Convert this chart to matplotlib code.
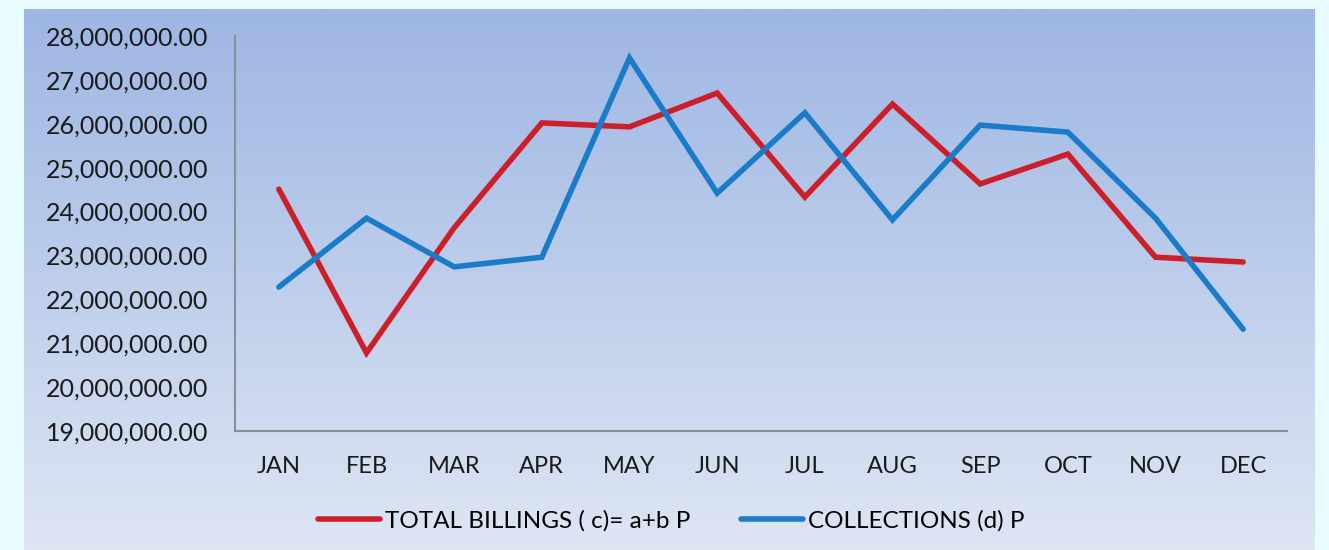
import matplotlib
matplotlib.use("Agg")
import matplotlib.pyplot as plt
import numpy as np
from matplotlib.ticker import FuncFormatter

months = ["JAN", "FEB", "MAR", "APR", "MAY", "JUN", "JUL", "AUG", "SEP", "OCT", "NOV", "DEC"]
billings = [24510000, 20780000, 23630000, 26020000, 25930000, 26700000,
            24330000, 26450000, 24630000, 25310000, 22960000, 22850000]
collections = [22280000, 23850000, 22740000, 22960000, 27500000, 24420000,
               26250000, 23810000, 25970000, 25810000, 23850000, 21320000]
series_labels = ["TOTAL BILLINGS ( c)= a+b P", "COLLECTIONS (d) P"]
yticks = [19000000 + i * 1000000 for i in range(10)]

plt.rcParams['font.family'] = ['Lato', 'DejaVu Sans']

W, H = 1329, 550
fig = plt.figure(figsize=(W / 100, H / 100), dpi=100)
fig.patch.set_facecolor('#e8fbff')

# gradient panel
bg = fig.add_axes([24 / W, 0, (1315 - 24) / W, (H - 9) / H], zorder=0)
top = np.array([157, 182, 227]) / 255
bot = np.array([222, 230, 244]) / 255
t = np.linspace(0, 1, 256)[:, None]
grad = (top[None, :] * (1 - t) + bot[None, :] * t)[:, None, :]
bg.imshow(grad, aspect='auto', extent=[0, 1, 0, 1], origin='upper')
bg.set_axis_off()

ax = fig.add_axes([235 / W, 1 - 431 / H, (1287 - 235) / W, (431 - 36) / H], zorder=1)
ax.set_facecolor('none')
x = np.arange(len(months))
l1, = ax.plot(x, billings, color='#cc1f2a', lw=4.0, solid_capstyle='round', solid_joinstyle='miter')
l2, = ax.plot(x, collections, color='#1a7bc9', lw=4.0, solid_capstyle='round', solid_joinstyle='miter')

ax.set_xlim(-0.5, len(months) - 0.5)
ax.set_ylim(19000000, 28000000)
ax.set_yticks(yticks)
ax.yaxis.set_major_formatter(FuncFormatter(lambda v, p: f"{v:,.2f}"))
ax.set_xticks(x)
ax.set_xticklabels(months)
ax.tick_params(axis='both', length=0, colors='#1a1a1a')
ax.tick_params(axis='y', pad=19, labelsize=18)
ax.tick_params(axis='x', pad=18, labelsize=17)
for s in ['top', 'right']:
    ax.spines[s].set_visible(False)
for s in ['left', 'bottom']:
    ax.spines[s].set_color('#8a9099')
    ax.spines[s].set_linewidth(1.5)

fig.legend([l1, l2], series_labels, loc='center', bbox_to_anchor=(0.505, 1 - 521 / H),
           ncol=2, frameon=False, fontsize=17.5, handlelength=2.55, handletextpad=0.2,
           columnspacing=2.1)

fig.savefig('out.png', dpi=100, facecolor=fig.get_facecolor())
